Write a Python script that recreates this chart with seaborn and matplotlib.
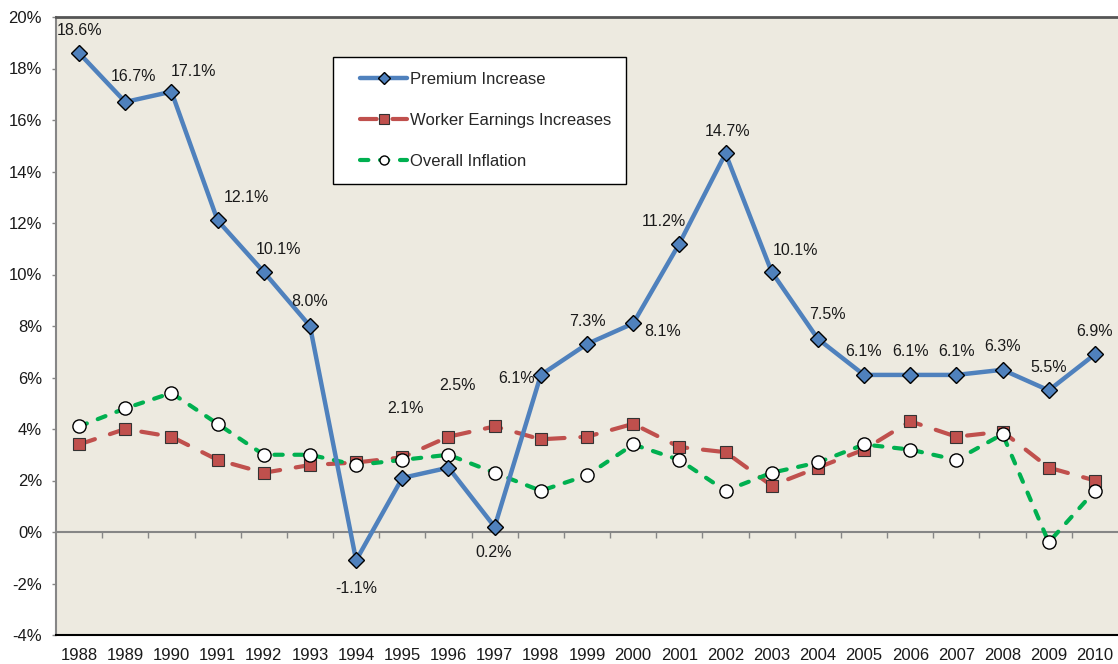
import pandas as pd
import seaborn as sns
import matplotlib
matplotlib.use("Agg")
import matplotlib.pyplot as plt
from matplotlib.ticker import FuncFormatter
from matplotlib.legend_handler import HandlerLine2D

years = list(range(1988, 2011))
premium = [18.6, 16.7, 17.1, 12.1, 10.1, 8.0, -1.1, 2.1, 2.5, 0.2, 6.1, 7.3,
           8.1, 11.2, 14.7, 10.1, 7.5, 6.1, 6.1, 6.1, 6.3, 5.5, 6.9]
earnings = [3.4, 4.0, 3.7, 2.8, 2.3, 2.6, 2.7, 2.9, 3.7, 4.1, 3.6, 3.7,
            4.2, 3.3, 3.1, 1.8, 2.5, 3.2, 4.3, 3.7, 3.9, 2.5, 2.0]
inflation = [4.1, 4.8, 5.4, 4.2, 3.0, 3.0, 2.6, 2.8, 3.0, 2.3, 1.6, 2.2,
             3.4, 2.8, 1.6, 2.3, 2.7, 3.4, 3.2, 2.8, 3.8, -0.4, 1.6]

df = pd.DataFrame({"year": years, "premium": premium,
                   "earnings": earnings, "inflation": inflation})

sns.set_theme(style="ticks")
plt.rcParams["font.family"] = ["Liberation Sans", "DejaVu Sans"]

fig = plt.figure(figsize=(11.18, 6.64), dpi=100, facecolor="white")
ax = fig.add_axes([56 / 1118, 29 / 664, 1062 / 1118, 618 / 664])
ax.set_facecolor("#EDEAE0")

sns.lineplot(data=df, x="year", y="earnings", ax=ax, color="#C0504D",
             linewidth=3, linestyle=(0, (4.0, 3.8)), dash_capstyle="round",
             marker="s", markersize=8.5, markerfacecolor="#C0504D",
             markeredgecolor="#333333", markeredgewidth=0.8,
             label="Worker Earnings Increases")
sns.lineplot(data=df, x="year", y="inflation", ax=ax, color="#00B050",
             linewidth=3, linestyle=(0, (2.0, 2.8)), dash_capstyle="round",
             marker="o", markersize=9.5, markerfacecolor="white",
             markeredgecolor="black", markeredgewidth=1,
             label="Overall Inflation")
sns.lineplot(data=df, x="year", y="premium", ax=ax, color="#4F81BD",
             linewidth=3.2, marker="D", markersize=8.5,
             markerfacecolor="#4F81BD", markeredgecolor="black",
             markeredgewidth=1, label="Premium Increase")

# label placement (pixels, relative to marker)
offsets = {1988: (0, 23), 1989: (8, 25), 1990: (22, 20), 1991: (29, 23),
           1992: (15, 22), 1993: (0, 25), 1994: (0, -28), 1995: (3, 69),
           1996: (9, 82), 1997: (-1, -26), 1998: (-24, -4), 1999: (0, 23),
           2000: (29, -8), 2001: (-15, 22), 2002: (2, 22), 2003: (24, 21),
           2004: (10, 24)}
for yr, v in zip(years, premium):
    dx, dy = offsets.get(yr, (0, 23))
    ax.annotate(f"{v:.1f}%", (yr, v), xytext=(dx, dy),
                textcoords="offset pixels", ha="center", va="center",
                fontsize=11.5, color="#1a1a1a")

ax.set_xlim(1987.5, 2010.5)
ax.set_ylim(-4, 20)
ax.set_yticks(range(-4, 21, 2))
ax.yaxis.set_major_formatter(FuncFormatter(lambda v, p: f"{v:.0f}%"))
ax.set_xticks(years)
ax.set_xticklabels([str(y) for y in years])
ax.tick_params(axis="x", length=0, pad=9, labelsize=12, colors="#1a1a1a")
ax.tick_params(axis="y", length=3, width=1, pad=7, labelsize=12,
               color="#868686", labelcolor="#1a1a1a")
ax.set_xlabel("")
ax.set_ylabel("")

ax.spines["left"].set_color("#868686")
ax.spines["left"].set_linewidth(1.5)
ax.spines["bottom"].set_color("black")
ax.spines["bottom"].set_linewidth(1.5)
ax.spines["top"].set_visible(True)
ax.spines["top"].set_color("#555555")
ax.spines["top"].set_linewidth(2)
ax.spines["right"].set_visible(False)

# category axis crossing at 0%
sec = ax.secondary_xaxis(4 / 24)
sec.set_xticks([y + 0.5 for y in years[:-1]])
sec.set_xticklabels([])
sec.tick_params(length=4, width=1, color="#868686", direction="out")
sec.spines["bottom"].set_color("#868686")
sec.spines["bottom"].set_linewidth(1.5)


class ShiftedLine(HandlerLine2D):
    # Excel-style legend key: indented a bit, small marker
    def create_artists(self, legend, orig_handle, xdescent, ydescent,
                       width, height, fontsize, trans):
        arts = super().create_artists(legend, orig_handle, xdescent, ydescent,
                                      width, height, fontsize, trans)
        for a in arts:
            a.set_xdata([x + 0.72 * fontsize for x in a.get_xdata()])
            a.set_markersize(6.5)
        return arts


order = ["Premium Increase", "Worker Earnings Increases", "Overall Inflation"]
h, l = ax.get_legend_handles_labels()
hm = dict(zip(l, h))
leg = ax.legend([hm[k] for k in order], order, loc="upper left",
                bbox_to_anchor=(0.261, 0.935), borderaxespad=0, fontsize=12,
                frameon=True, fancybox=False, handlelength=2.8,
                handletextpad=0.9, labelspacing=1.55, borderpad=0.9,
                handler_map={hm[k]: ShiftedLine() for k in order})
leg.get_frame().set_edgecolor("black")
leg.get_frame().set_linewidth(1)
leg.get_frame().set_facecolor("white")
leg.get_frame().set_alpha(1)

fig.savefig("out.png", dpi=100, facecolor="white")
